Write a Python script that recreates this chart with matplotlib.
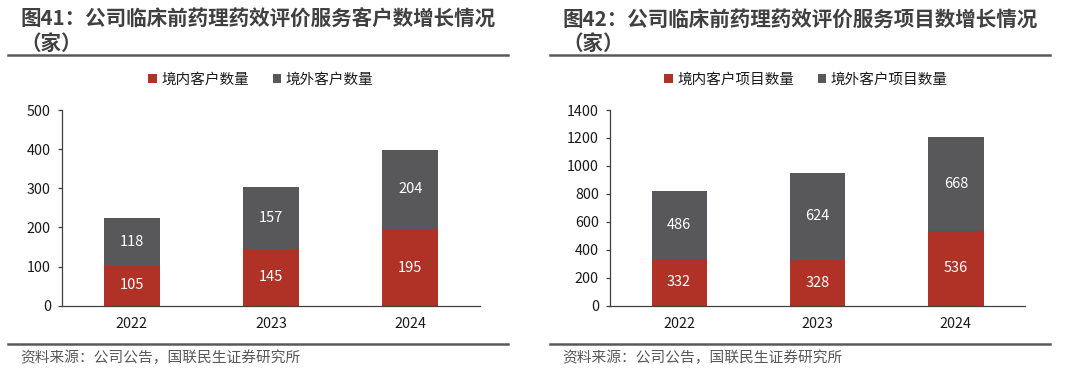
import numpy as np
import matplotlib
matplotlib.use("Agg")
import matplotlib.pyplot as plt
from matplotlib.lines import Line2D

plt.rcParams['font.family'] = ['Noto Sans CJK SC', 'DejaVu Sans']

# --- data ---
years = ['2022', '2023', '2024']
clients_domestic = [105, 145, 195]
clients_overseas = [118, 157, 204]
projects_domestic = [332, 328, 536]
projects_overseas = [486, 624, 668]

titles = ['图41：公司临床前药理药效评价服务客户数增长情况',
          '图42：公司临床前药理药效评价服务项目数增长情况']
legend_labels = [['境内客户数量', '境外客户数量'],
                 ['境内客户项目数量', '境外客户项目数量']]
source = '资料来源：公司公告，国联民生证券研究所'

RED = '#B03227'
GREY = '#58585A'
TXT = '#404040'

W, H = 1080, 382
fig = plt.figure(figsize=(W / 100, H / 100), dpi=100)


def px(x, y):
    # pixel coords (from top-left) -> figure fraction
    return x / W, 1 - y / H


def panel(x0, ax_left, ax_right, dom, ovs, ymax, ystep, title, labels, leg_x):
    # title + rules + source
    fig.text(*px(x0 + 12, 19), title, fontsize=14.8, fontweight='bold',
             color=TXT, va='center', ha='left')
    fig.text(*px(x0 + 12, 43), '（家）', fontsize=14.8, fontweight='bold',
             color=TXT, va='center', ha='left')
    for yy in (54.5, 344):
        fig.add_artist(Line2D([x0 / W, (x0 + 500) / W], [1 - yy / H] * 2,
                              color='#595959', lw=1.8))
    fig.text(*px(x0 + 12, 358), source, fontsize=10.6, color='#595959',
             va='center', ha='left')

    l, b = px(ax_left, 305.7)
    r, t = px(ax_right, 110)
    ax = fig.add_axes([l, b, r - l, t - b])
    x = np.arange(len(years))
    b1 = ax.bar(x, dom, width=0.4, color=RED, label=labels[0])
    b2 = ax.bar(x, ovs, width=0.4, bottom=dom, color=GREY, label=labels[1])
    for bars, vals, base in ((b1, dom, [0] * 3), (b2, ovs, dom)):
        for i, v in enumerate(vals):
            ax.text(x[i], base[i] + v / 2, str(v), ha='center', va='center',
                    color='white', fontsize=10.5)
    ax.set_xlim(-0.5, 2.5)
    ax.set_ylim(0, ymax)
    ax.set_yticks(np.arange(0, ymax + 1, ystep))
    ax.set_xticks(x)
    ax.set_xticklabels(years)
    for s in ('top', 'right'):
        ax.spines[s].set_visible(False)
    for s in ('left', 'bottom'):
        ax.spines[s].set_color('#404040')
        ax.spines[s].set_linewidth(0.9)
    ax.tick_params(axis='y', length=3, width=0.9, color='#404040', pad=5,
                   labelsize=10.3, labelcolor='#1a1a1a')
    ax.tick_params(axis='x', length=0, pad=8, labelsize=10.3, labelcolor='#1a1a1a')
    fig.legend(handles=[b1, b2], loc='center', bbox_to_anchor=px(leg_x, 80),
               ncol=2, frameon=False, fontsize=10.5, handlelength=0.6,
               handleheight=0.6, handletextpad=0.3, columnspacing=1.6,
               labelcolor='#1a1a1a')
    return ax


panel(8, 62, 480, clients_domestic, clients_overseas, 500, 100,
      titles[0], legend_labels[0], 261)
panel(550, 610, 1025, projects_domestic, projects_overseas, 1400, 200,
      titles[1], legend_labels[1], 806)

fig.savefig('out.png', dpi=100)
